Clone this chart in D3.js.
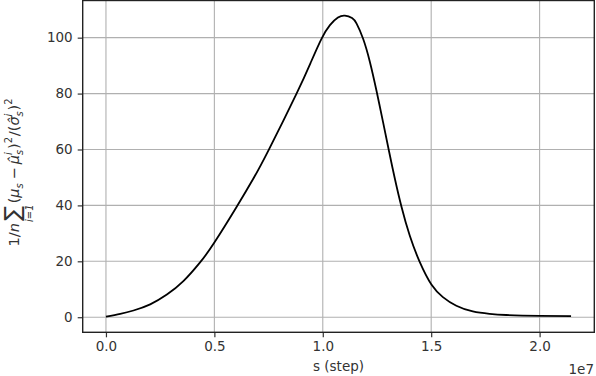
<!DOCTYPE html>
<html>
<head>
<meta charset="utf-8">
<script src="https://cdn.jsdelivr.net/npm/d3@7"></script>
<style>
  body { margin: 0; background: #fff; }
  svg { display: block; }
  text { font-family: "DejaVu Sans", sans-serif; fill: #333; }
</style>
</head>
<body>
<div id="chart"></div>
<script>
// step values (raw steps) and the statistic
var steps = [0, 660000, 1270000, 2040000, 2810000, 3570000, 4340000, 5000000,
  6030000, 6800000, 7490000, 8790000, 9450000, 9940000, 10330000, 10700000,
  11020000, 11350000, 11560000, 11860000, 12170000, 12480000, 12780000,
  13060000, 13320000, 13630000, 14010000, 14470000, 15010000, 15540000,
  16160000, 16920000, 17690000, 18460000, 20000000, 21450000];
var values = [0.2, 1.2, 2.4, 4.6, 8.1, 12.9, 19.6, 26.7,
  39.5, 49.6, 59.6, 80.0, 91.2, 99.6, 104.5, 107.2,
  107.9, 107.0, 105.0, 99.6, 91.4, 80.9, 69.8,
  59.2, 49.7, 39.5, 29.2, 19.8, 11.7, 7.2,
  4.1, 2.05, 1.2, 0.8, 0.5, 0.4];

var xTicks = [0, 5e6, 1e7, 1.5e7, 2e7];
var xTickLabels = ["0.0", "0.5", "1.0", "1.5", "2.0"];
var yTicks = [0, 20, 40, 60, 80, 100];

var data = steps.map(function(s, i) { return {s: s, v: values[i]}; });

// set the dimensions and margins of the graph
var W = 596, H = 376;
var margin = {top: 0.5, right: 1.7, bottom: 43.7, left: 82.7},
    width = W - margin.left - margin.right,
    height = H - margin.top - margin.bottom;

// matplotlib style 5% padding around the data
var xe = d3.extent(steps), ye = [0, d3.max(values)];
var xp = (xe[1] - xe[0]) * 0.05, yp = (ye[1] - ye[0]) * 0.05;
var x = d3.scaleLinear().domain([xe[0] - xp, xe[1] + xp]).range([0, width]);
var y = d3.scaleLinear().domain([ye[0] - yp, ye[1] + yp]).range([height, 0]);

var svg = d3.select("#chart").append("svg")
    .attr("width", W)
    .attr("height", H);

var g = svg.append("g")
    .attr("transform", "translate(" + margin.left + "," + margin.top + ")");

// grid
g.append("g").selectAll("line").data(xTicks).enter().append("line")
    .attr("x1", function(d) { return x(d); }).attr("x2", function(d) { return x(d); })
    .attr("y1", 0).attr("y2", height)
    .attr("stroke", "#b0b0b0").attr("stroke-width", 1.1);
g.append("g").selectAll("line").data(yTicks).enter().append("line")
    .attr("y1", function(d) { return y(d); }).attr("y2", function(d) { return y(d); })
    .attr("x1", 0).attr("x2", width)
    .attr("stroke", "#b0b0b0").attr("stroke-width", 1.1);

// the line
var valueline = d3.line()
    .x(function(d) { return x(d.s); })
    .y(function(d) { return y(d.v); })
    .curve(d3.curveNatural);

g.append("path")
    .datum(data)
    .attr("fill", "none")
    .attr("stroke", "#000")
    .attr("stroke-width", 1.8)
    .attr("d", valueline);

// axes
var xAxis = g.append("g")
    .attr("transform", "translate(0," + height + ")")
    .call(d3.axisBottom(x).tickValues(xTicks)
      .tickFormat(function(d, i) { return xTickLabels[i]; })
      .tickSize(5).tickPadding(4));
var yAxis = g.append("g")
    .call(d3.axisLeft(y).tickValues(yTicks).tickSize(5).tickPadding(5));

[xAxis, yAxis].forEach(function(a) {
  a.select(".domain").remove();
  a.selectAll(".tick line").attr("stroke", "#333").attr("stroke-width", 1.2);
  a.selectAll(".tick text").attr("fill", "#333")
    .style("font-size", "13.5px").style("font-family", "DejaVu Sans");
});

// frame
g.append("rect")
    .attr("width", width).attr("height", height)
    .attr("fill", "none").attr("stroke", "#222").attr("stroke-width", 1.4);

// labels
svg.append("text")
    .attr("x", margin.left + width / 2).attr("y", 371)
    .attr("text-anchor", "middle")
    .style("font-size", "13.5px")
    .text("s (step)");
svg.append("text")
    .attr("x", W - 2).attr("y", 374)
    .attr("text-anchor", "end")
    .style("font-size", "13.5px")
    .text("1e7");

// y label, built piece by piece then rotated
var lab = svg.append("g");
var cx = 0;
function piece(t, opt) {
  opt = opt || {};
  var el = lab.append("text")
      .attr("x", cx).attr("y", opt.dy || 0)
      .style("font-size", (opt.size || 14.5) + "px")
      .style("font-style", opt.it ? "italic" : "normal")
      .text(t);
  return el.node().getComputedTextLength();
}
function add(t, opt) { cx += piece(t, opt); }
function subsup(sub, sup) {
  var w1 = sub ? piece(sub, {size: 10, dy: 3.5, it: true}) : 0;
  var w2 = sup ? piece(sup, {size: 10, dy: -7, it: sup !== "2"}) : 0;
  cx += Math.max(w1, w2) + 0.8;
}
add("1/");
add("n", {it: true});
cx += 2.5;
var sx = cx;
var sw = piece("\u2211", {size: 22, dy: 1});
lab.append("text")
    .attr("x", sx + sw / 2).attr("y", 13.5)
    .attr("text-anchor", "middle")
    .style("font-size", "10px")
    .style("font-style", "italic")
    .text("i=1");
cx += sw + 2.5;
add("(");
add("\u03bc", {it: true});
subsup("s", null);
cx += 3;
add("\u2212");
cx += 3;
add("\u03bc\u0302", {it: true});
subsup("s", "i");
add(")");
subsup(null, "2");
add("/(");
add("\u03c3\u0302", {it: true});
subsup("s", "i");
add(")");
subsup(null, "2");
lab.attr("transform", "translate(19," + (172 + cx / 2) + ") rotate(-90)");
</script>
</body>
</html>
